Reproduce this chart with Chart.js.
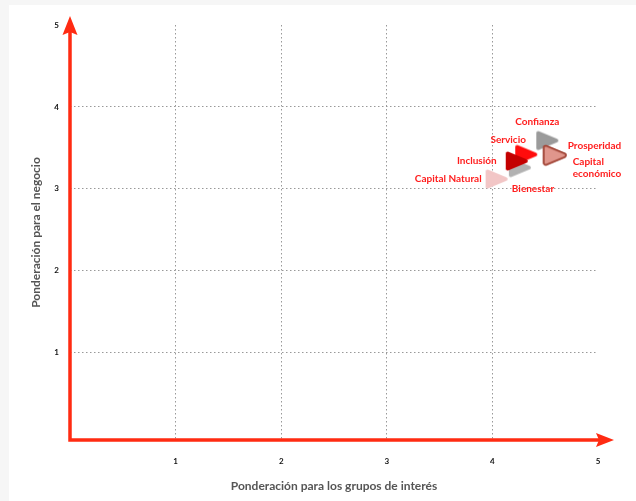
<!DOCTYPE html>
<html>
<head>
<meta charset="utf-8">
<script src="https://cdn.jsdelivr.net/npm/chart.js@4"></script>
<style>
  html, body { margin: 0; padding: 0; background: #f6f6f6; }
</style>
</head>
<body>
<canvas id="matriz" width="636" height="501"></canvas>
<script>
// Data (draw order: back to front)
let temas = ["Confianza", "Capital económico", "Prosperidad", "Bienestar", "Servicio", "Inclusión", "Capital Natural"];
let gruposInteres = [4.52, 4.59, 4.59, 4.26, 4.32, 4.23, 4.04];
let negocio = [3.59, 3.41, 3.41, 3.26, 3.42, 3.34, 3.12];
let valoresEje = [1, 2, 3, 4, 5];

// styles per point
let relleno = ["#9b9b9b", "#e0968c", "#e0968c", "#b2b2b2", "#ff0c0c", "#c40000", "#f2c6c6"];
let borde = [null, "#a44a3c", "#a44a3c", null, null, null, null];
let etiquetas = [
  { dx: -10, dy: -19, align: "center" },
  { dx: 18, dy: 7, align: "left", wrap: true },
  { dx: 13, dy: -9, align: "left" },
  { dx: -8, dy: 21, align: "left" },
  { dx: -18, dy: -15, align: "center" },
  { dx: -20, dy: 0, align: "right" },
  { dx: -15, dy: 0, align: "right" },
];

let rojo = "#ff2b12";

// rounded triangle pointing right
function triangulo(fill, stroke) {
  let c = document.createElement("canvas");
  c.width = 26;
  c.height = 24;
  let g = c.getContext("2d");
  let p = [[4, 4.5], [22, 12], [4, 19.5]];
  g.beginPath();
  g.moveTo(p[0][0], p[0][1]);
  g.lineTo(p[1][0], p[1][1]);
  g.lineTo(p[2][0], p[2][1]);
  g.closePath();
  g.lineJoin = "round";
  if (stroke) {
    g.lineWidth = 5.5;
    g.strokeStyle = stroke;
    g.stroke();
    g.lineWidth = 2.2;
  } else {
    g.lineWidth = 4;
  }
  g.strokeStyle = fill;
  g.fillStyle = fill;
  g.stroke();
  g.fill();
  return c;
}

let puntos = temas.map((t, i) => ({ x: gruposInteres[i], y: negocio[i] }));
let estilos = relleno.map((f, i) => triangulo(f, borde[i]));

// background with the light frame
let fondo = {
  id: "fondo",
  beforeDraw(chart) {
    let ctx = chart.ctx;
    ctx.save();
    ctx.fillStyle = "#f6f6f6";
    ctx.fillRect(0, 0, chart.width, chart.height);
    ctx.fillStyle = "#ffffff";
    ctx.fillRect(9, 5, chart.width - 9, chart.height - 5);
    ctx.restore();
  },
};

// red axes with arrow heads
let flechas = {
  id: "flechas",
  beforeDatasetsDraw(chart) {
    let a = chart.chartArea;
    let ctx = chart.ctx;
    let x0 = a.left;
    let y0 = a.bottom;
    ctx.save();
    ctx.strokeStyle = rojo;
    ctx.fillStyle = rojo;
    ctx.lineWidth = 3.5;
    ctx.lineCap = "butt";
    ctx.beginPath();
    ctx.moveTo(x0, 30);
    ctx.lineTo(x0, y0);
    ctx.lineTo(602, y0);
    ctx.stroke();
    // up
    ctx.beginPath();
    ctx.moveTo(x0, 16);
    ctx.lineTo(x0 + 7.5, 35);
    ctx.lineTo(x0, 32);
    ctx.lineTo(x0 - 7.5, 35);
    ctx.closePath();
    ctx.fill();
    // right
    ctx.beginPath();
    ctx.moveTo(614, y0);
    ctx.lineTo(596, y0 - 7);
    ctx.lineTo(599, y0);
    ctx.lineTo(596, y0 + 7);
    ctx.closePath();
    ctx.fill();
    ctx.restore();
  },
};

// names next to the triangles
let nombres = {
  id: "nombres",
  afterDatasetsDraw(chart) {
    let ctx = chart.ctx;
    let meta = chart.getDatasetMeta(0);
    ctx.save();
    ctx.fillStyle = "#ff1d1d";
    ctx.font = "bold 10px Lato";
    ctx.textBaseline = "middle";
    meta.data.forEach((p, i) => {
      let e = etiquetas[i];
      ctx.textAlign = e.align;
      let lineas = e.wrap ? temas[i].split(" ") : [temas[i]];
      lineas.forEach((l, k) => {
        ctx.fillText(l, p.x + e.dx, p.y + e.dy + k * 12);
      });
    });
    ctx.restore();
  },
};

function colorGrid(ctx) {
  let v = ctx.tick ? ctx.tick.value : 0;
  return v >= 1 && v <= 4 ? "#999999" : "rgba(0,0,0,0)";
}

function soloEnteros(scale) {
  scale.ticks = valoresEje.map((v) => ({ value: v }));
}

let matriz = new Chart(document.getElementById("matriz"), {
  type: "scatter",
  data: {
    labels: temas,
    datasets: [
      {
        data: puntos,
        pointStyle: estilos,
        pointRadius: 11,
        pointHoverRadius: 11,
      },
    ],
  },
  options: {
    responsive: false,
    animation: false,
    events: [],
    layout: {
      padding: { left: 0, top: 25, right: 38, bottom: 0 },
    },
    plugins: {
      legend: { display: false },
      tooltip: { enabled: false },
    },
    scales: {
      x: {
        min: 0,
        max: 5,
        afterBuildTicks: soloEnteros,
        afterFit(scale) {
          scale.height = 61;
        },
        grid: { color: colorGrid, drawTicks: false },
        border: { display: false, dash: [1.5, 2.5] },
        ticks: {
          padding: 17,
          color: "#111",
          font: { family: "Lato", size: 8, weight: "bold" },
        },
        title: {
          display: true,
          text: "Ponderación para los grupos de interés",
          color: "#555",
          font: { family: "Lato", size: 12, weight: "bold" },
          padding: { top: 0, bottom: 8 },
        },
      },
      y: {
        min: -0.065,
        max: 5,
        afterBuildTicks: soloEnteros,
        afterFit(scale) {
          scale.width = 70;
        },
        grid: { color: colorGrid, drawTicks: false },
        border: { display: false, dash: [1.5, 2.5] },
        ticks: {
          padding: 11,
          color: "#111",
          font: { family: "Lato", size: 8, weight: "bold" },
        },
        title: {
          display: true,
          text: "Ponderación para el negocio",
          color: "#555",
          font: { family: "Lato", size: 12, weight: "bold" },
          padding: { top: 29, bottom: 0 },
        },
      },
    },
  },
  plugins: [fondo, flechas, nombres],
});
</script>
</body>
</html>
